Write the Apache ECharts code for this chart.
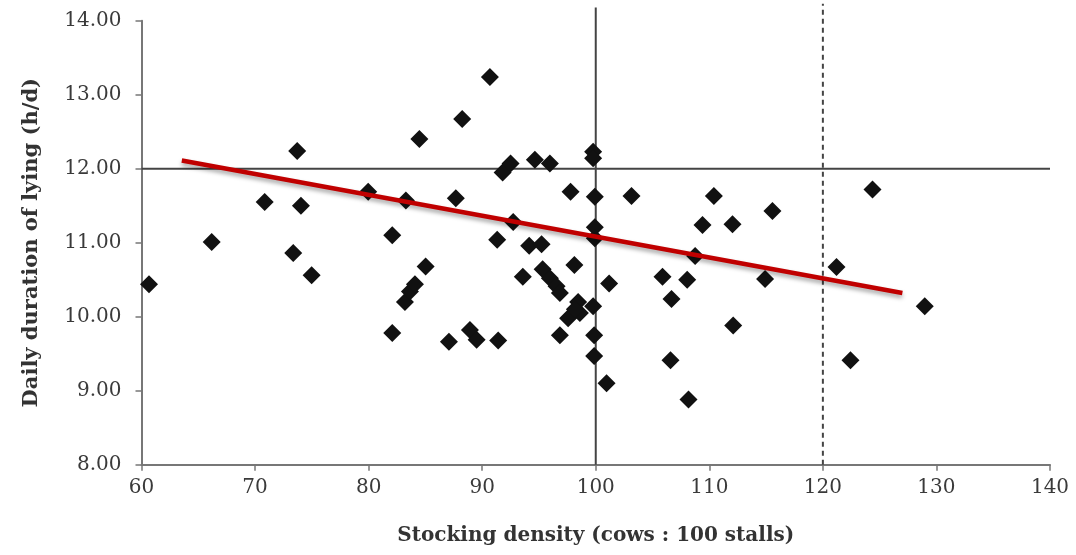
<!DOCTYPE html>
<html>
<head>
<meta charset="utf-8">
<script src="https://cdn.jsdelivr.net/npm/echarts@6/dist/echarts.min.js"></script>
<style>html,body{margin:0;padding:0;background:#fff}#c{width:1076px;height:555px}</style>
</head>
<body>
<div id="c"></div>
<script>
// Stocking density (cows : 100 stalls)
const stockingDensity = [60.66,66.18,70.85,73.71,74.04,73.36,74.98,79.96,83.28,82.08,82.08,84.47,83.2,83.64,84.08,85.02,87.68,88.24,87.07,88.92,89.51,91.41,90.68,91.32,91.8,92.5,92.73,93.58,94.14,94.64,95.23,95.96,95.32,95.96,96.55,96.84,97.78,98.12,98.45,98.6,97.57,96.84,99.77,99.77,99.92,99.92,99.92,99.77,99.86,99.86,100.95,101.18,103.15,105.88,106.67,106.58,108.05,108.17,108.75,109.4,110.4,112.04,112.1,114.91,115.56,121.2,122.43,124.37,128.97,98.16];
// Daily duration of lying (h/d)
const lyingHours = [10.44,11.01,11.55,12.24,11.5,10.86,10.56,11.69,11.57,11.1,9.78,12.4,10.2,10.34,10.44,10.68,11.6,12.67,9.66,9.82,9.69,9.68,13.24,11.04,11.95,12.07,11.28,10.54,10.96,12.12,10.98,12.07,10.64,10.52,10.41,10.32,11.69,10.7,10.2,10.05,9.98,9.75,12.23,12.14,11.62,11.21,11.06,10.14,9.75,9.47,9.1,10.45,11.63,10.54,10.24,9.41,10.5,8.88,10.82,11.24,11.63,11.25,9.88,10.51,11.43,10.67,9.41,11.72,10.14,10.1];
// Regression line end points
const trendX = [63.55, 127.0];
const trendY = [12.11, 10.32];
// Reference lines
const refStocking = 100;      // solid vertical
const refStockingMax = 120;   // dashed vertical
const refLying = 12;          // solid horizontal
const refTop = 14.18;         // vertical reference lines reach slightly above the plot

const points = stockingDensity.map((x, i) => [x, lyingHours[i]]);
const trend = trendX.map((x, i) => [x, trendY[i]]);

const serif = '"DejaVu Serif", "Liberation Serif", serif';
const axisCommon = {
  nameLocation: 'middle',
  axisLine: { show: true, lineStyle: { color: '#777', width: 2 } },
  axisTick: { show: true, inside: false, length: 6, lineStyle: { color: '#777', width: 1.5 } },
  splitLine: { show: false }
};
const chart = echarts.init(document.getElementById('c'));
chart.setOption({
  animation: false,
  backgroundColor: '#fff',
  grid: { left: 141.5, right: 26, top: 20.7, bottom: 90.3, containLabel: false },
  xAxis: Object.assign({}, axisCommon, {
    type: 'value', min: 60, max: 140, interval: 10,
    name: 'Stocking density (cows : 100 stalls)',
    nameGap: 61,
    nameTextStyle: { fontFamily: serif, fontWeight: 'bold', fontSize: 20, color: '#333' },
    axisLabel: { fontFamily: serif, fontSize: 20, color: '#3a3a3a', margin: 13 }
  }),
  yAxis: Object.assign({}, axisCommon, {
    type: 'value', min: 8, max: 14, interval: 1,
    name: 'Daily duration of lying (h/d)',
    nameGap: 99,
    nameTextStyle: { fontFamily: serif, fontWeight: 'bold', fontSize: 21, color: '#333' },
    axisLabel: { fontFamily: serif, fontSize: 20, color: '#3a3a3a', margin: 20,
      formatter: v => v.toFixed(2) }
  }),
  series: [
    {
      type: 'line', clip: false, symbol: 'none', silent: true, z: 1,
      data: [[60, refLying], [140, refLying]],
      lineStyle: { color: '#444', width: 2, type: 'solid' }
    },
    {
      type: 'line', clip: false, symbol: 'none', silent: true, z: 1,
      data: [[refStocking, 8], [refStocking, refTop]],
      lineStyle: { color: '#444', width: 2, type: 'solid' }
    },
    {
      type: 'line', clip: false, symbol: 'none', silent: true, z: 1,
      data: [[refStockingMax, 8], [refStockingMax, refTop + 0.05]],
      lineStyle: { color: '#444', width: 2, type: [5, 4] }
    },
    {
      type: 'scatter',
      data: points,
      symbol: 'diamond',
      symbolSize: 18,
      itemStyle: { color: '#111', opacity: 1 },
      z: 3
    },
    {
      type: 'line',
      data: trend,
      symbol: 'none',
      z: 4,
      lineStyle: { color: '#c00000', width: 4.5, shadowColor: 'rgba(0,0,0,0.35)', shadowBlur: 4, shadowOffsetY: 3 }
    }
  ]
});
</script>
</body>
</html>
